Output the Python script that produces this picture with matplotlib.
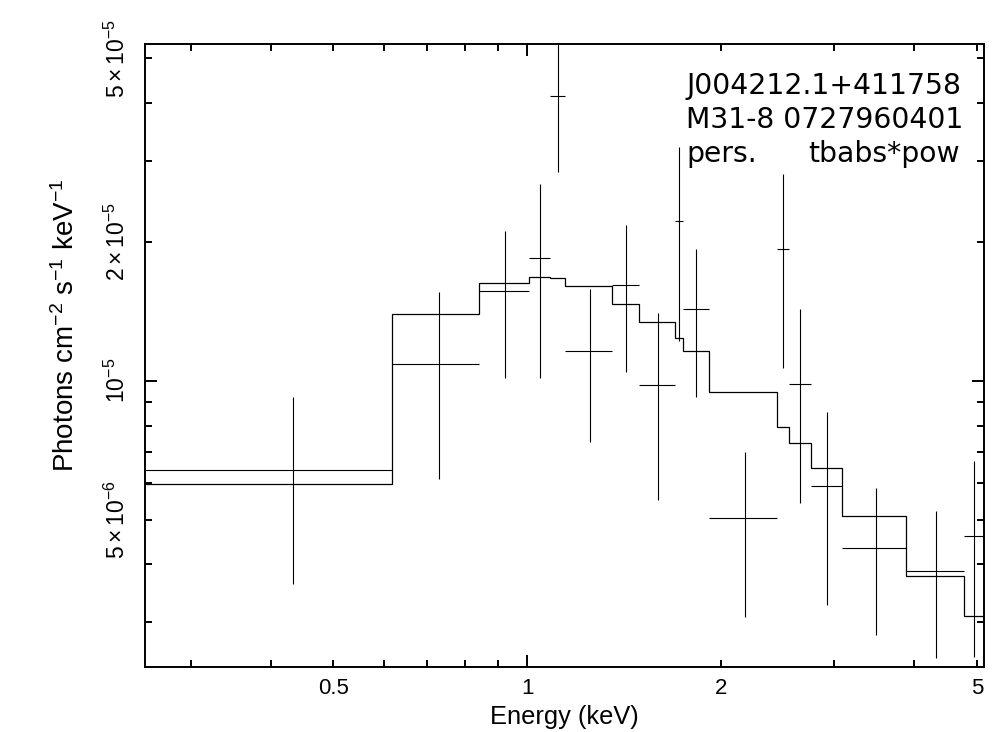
import matplotlib
matplotlib.use("Agg")
import matplotlib.pyplot as plt
from matplotlib.ticker import FixedLocator, FixedFormatter
import numpy as np

plt.rcParams.update({
    'font.family': ['Liberation Sans', 'DejaVu Sans'],
    'mathtext.fontset': 'custom',
    'mathtext.rm': 'Liberation Sans',
    'mathtext.it': 'Liberation Sans:italic',
    'mathtext.default': 'regular',
})

# energy bins (keV)
e_lo = [0.25, 0.616, 0.843, 1.008, 1.084, 1.147, 1.357, 1.495, 1.696,
        1.750, 1.915, 2.449, 2.554, 2.760, 3.090, 3.886, 4.771]
e_hi = [0.616, 0.843, 1.008, 1.084, 1.147, 1.357, 1.495, 1.696, 1.750,
        1.915, 2.449, 2.554, 2.760, 3.090, 3.886, 4.771, 5.136]

# unfolded flux and 1-sigma errors (units of 1e-5 photons/cm2/s/keV)
flux = [0.642, 1.085, 1.562, 1.841, 4.150, 1.158, 1.609, 0.977, 2.215,
        1.428, 0.505, 1.934, 0.986, 0.592, 0.434, 0.387, 0.461]
flux_err = [0.279, 0.472, 0.547, 0.826, 1.315, 0.421, 0.566, 0.425, 0.993,
            0.505, 0.197, 0.868, 0.443, 0.265, 0.153, 0.136, 0.209]

# tbabs*pow model per bin
model = [0.599, 1.399, 1.625, 1.676, 1.672, 1.601, 1.464, 1.338, 1.241,
         1.163, 0.948, 0.793, 0.734, 0.648, 0.510, 0.378, 0.310]

x_minor = [0.3, 0.4, 0.5, 0.6, 0.7, 0.8, 0.9, 2, 3, 4, 5]
x_minor_labels = ['', '', '0.5', '', '', '', '', '2', '', '', '5']
y_minor = [3e-6, 4e-6, 5e-6, 6e-6, 7e-6, 8e-6, 9e-6, 2e-5, 3e-5, 4e-5, 5e-5]
y_minor_labels = ['', '', r'$5\times10^{-6}$', '', '', '', '', r'$2\times10^{-5}$',
                  '', '', r'$5\times10^{-5}$']

info_lines = ['J004212.1+411758', 'M31-8 0727960401']
state_label = 'pers.'
model_label = 'tbabs*pow'

e_lo = np.array(e_lo)
e_hi = np.array(e_hi)
e_mid = 0.5 * (e_lo + e_hi)
scale = 1e-5
flux = np.array(flux) * scale
flux_err = np.array(flux_err) * scale
model = np.array(model) * scale

fig = plt.figure(figsize=(10.03, 7.32), dpi=100)
ax = fig.add_axes([145 / 1003, (732 - 667.3) / 732, (984.3 - 145) / 1003, (667.3 - 43.6) / 732])

ax.errorbar(e_mid, flux, xerr=[e_mid - e_lo, e_hi - e_mid], yerr=flux_err,
            fmt='none', ecolor='black', elinewidth=0.8, capsize=0)
ax.stairs(model, np.append(e_lo, e_hi[-1]), baseline=None, color='black', linewidth=0.9)

ax.set_xscale('log')
ax.set_yscale('log')
ax.set_xlim(0.2549, 5.136)
ax.set_ylim(2.395e-6, 5.378e-5)

ax.xaxis.set_major_locator(FixedLocator([1]))
ax.xaxis.set_major_formatter(FixedFormatter(['1']))
ax.xaxis.set_minor_locator(FixedLocator(x_minor))
ax.xaxis.set_minor_formatter(FixedFormatter(x_minor_labels))
ax.yaxis.set_major_locator(FixedLocator([1e-5]))
ax.yaxis.set_major_formatter(FixedFormatter([r'$10^{-5}$']))
ax.yaxis.set_minor_locator(FixedLocator(y_minor))
ax.yaxis.set_minor_formatter(FixedFormatter(y_minor_labels))

ax.tick_params(which='both', direction='in', top=True, right=True,
               width=1.4, labelsize=16, color='black')
ax.tick_params(which='major', length=8.6)
ax.tick_params(which='minor', length=5)
ax.tick_params(axis='x', which='both', pad=8)
ax.tick_params(axis='y', which='both', pad=11, labelrotation=90, labelsize=16.5)
for lbl in ax.yaxis.get_majorticklabels() + ax.yaxis.get_minorticklabels():
    lbl.set_va('center')
for sp in ax.spines.values():
    sp.set_linewidth(1.4)

ax.set_xlabel('Energy (keV)', fontsize=18.3)
ax.xaxis.set_label_coords(0.5, -0.0604)
ax.set_ylabel(r'Photons cm$^{-2}$ s$^{-1}$ keV$^{-1}$', fontsize=20, va='center')
ax.yaxis.set_label_coords(-0.0941, 0.5486)

for i, line in enumerate(info_lines):
    ax.text(0.6446, 0.9199 - i * 0.0548, line, transform=ax.transAxes,
            fontsize=20.3, family='DejaVu Sans', va='baseline', ha='left')
ax.text(0.6446, 0.8103, state_label, transform=ax.transAxes,
        fontsize=20.3, family='DejaVu Sans', va='baseline', ha='left')
ax.text(0.971, 0.8103, model_label, transform=ax.transAxes,
        fontsize=20.3, family='DejaVu Sans', va='baseline', ha='right')

fig.savefig('out.png', dpi=100)
